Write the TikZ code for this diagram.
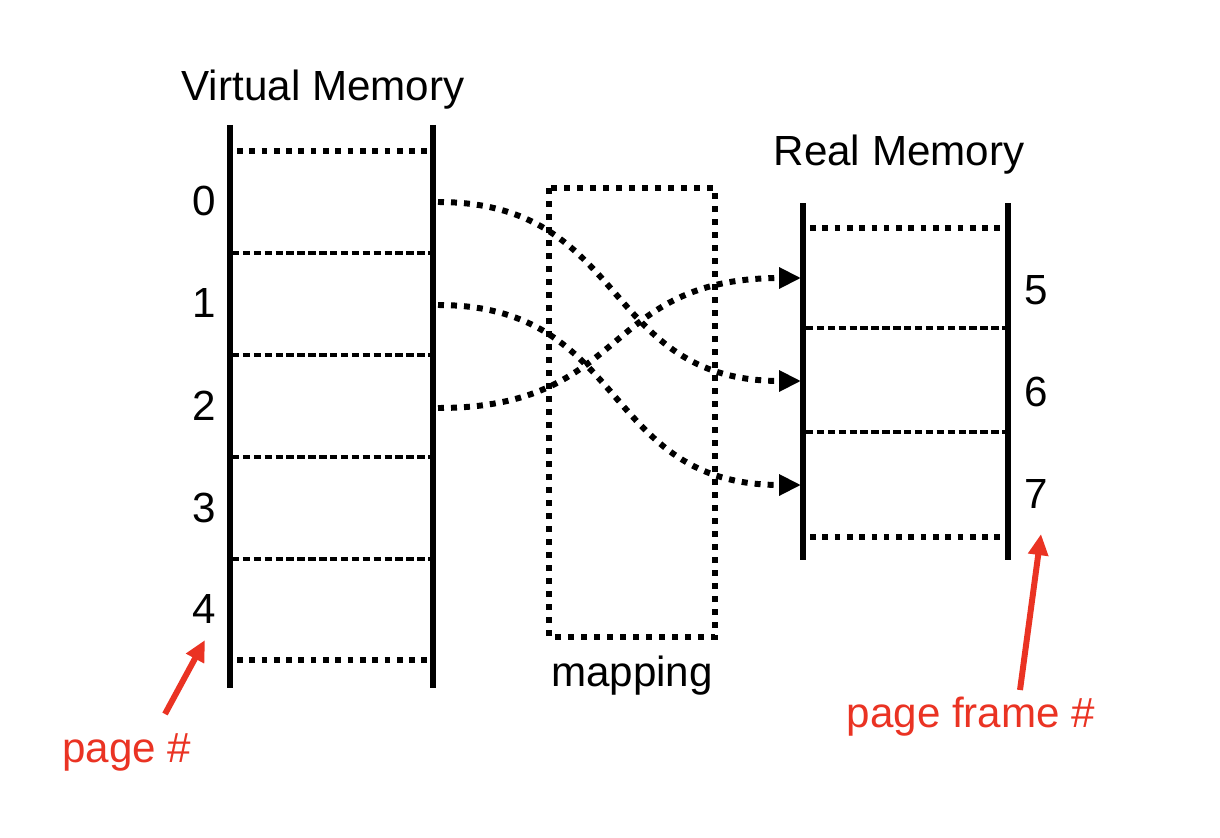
\documentclass[tikz,border=0pt]{standalone}
\usepackage{fontspec}
\setmainfont{Liberation Sans}
\usetikzlibrary{positioning,calc,arrows.meta}
\definecolor{notered}{RGB}{234,51,35}
\tikzset{>=Triangle}
\tikzset{
  bar/.style={line width=3.4pt},
  slot/.style={line width=3.2pt,dash pattern=on 3.2pt off 3.8pt},
  split/.style={line width=2.2pt,dash pattern=on 4.2pt off 2pt},
  box/.style={line width=3.4pt,dash pattern=on 3.4pt off 4pt},
  map/.style={line width=3.4pt,dash pattern=on 3.4pt off 4pt,-{Triangle[length=12.5pt,width=11.5pt]}},
  notearrow/.style={notered,line width=3.4pt,-{Triangle[length=12pt,width=11pt]}},
  lbl/.style={inner sep=0pt,anchor=base}
}

\begin{document}
\begin{tikzpicture}[x=0.02cm,y=-0.02cm,font=\fontsize{24}{29}\selectfont]
\useasboundingbox (0,0) rectangle (1220,838);
% Draw virtual memory
\node[lbl] (vmtitle) at (323,101) {Virtual Memory};
\draw[bar] (230,125) -- (230,688);
\draw[bar] (433,125) -- (433,688);
\draw[slot] (237,151) -- (430,151);
\draw[split] (232,253) -- (430,253);
\draw[split] (232,355) -- (430,355);
\draw[split] (232,457) -- (430,457);
\draw[split] (232,559) -- (430,559);
\draw[slot] (237,660) -- (430,660);
\node[lbl] (p0) at (204,215) {0};
\node[lbl] (p1) at (204,317) {1};
\node[lbl] (p2) at (204,420) {2};
\node[lbl] (p3) at (204,522) {3};
\node[lbl] (p4) at (204,623) {4};

% Draw mapping box
\draw[box] (549,188) rectangle (715,637);
\node[lbl] (maplbl) at (632,686) {mapping};

% Draw real memory
\node[lbl] (rmtitle) at (899,165) {Real Memory};
\draw[bar] (803,203) -- (803,560);
\draw[bar] (1008,203) -- (1008,560);
\draw[slot] (810,228) -- (1003,228);
\draw[split] (806,328) -- (1005,328);
\draw[split] (806,432) -- (1005,432);
\draw[slot] (810,537) -- (1003,537);
\node[lbl] (f5lbl) at (1036,304) {5};
\node[lbl] (f6lbl) at (1036,406) {6};
\node[lbl] (f7lbl) at (1036,508) {7};

% Draw page to frame mapping
\coordinate (v0) at (438,202);
\coordinate (v1) at (438,305);
\coordinate (v2) at (438,408);
\coordinate (f5) at (801,278);
\coordinate (f6) at (801,381);
\coordinate (f7) at (801,485);
\draw[map] (v0) .. controls ($(v0)+(192,0)$) and ($(f6)-(201,0)$) .. (f6);
\draw[map] (v1) .. controls ($(v1)+(192,0)$) and ($(f7)-(201,0)$) .. (f7);
\draw[map] (v2) .. controls ($(v2)+(192,0)$) and ($(f5)-(201,0)$) .. (f5);

% Red notes
\node[lbl,text=notered] (pagelbl) at (127,762) {page \#};
\node[lbl,text=notered] (framelbl) at (971,727) {page frame \#};
\coordinate (ps) at (165,714);
\coordinate (pt) at (205,640);
\coordinate (fs) at (1020,690);
\coordinate (ft) at (1041,534);
\draw[notearrow] (ps) -- (pt);
\draw[notearrow] (fs) -- (ft);
\end{tikzpicture}
\end{document}
